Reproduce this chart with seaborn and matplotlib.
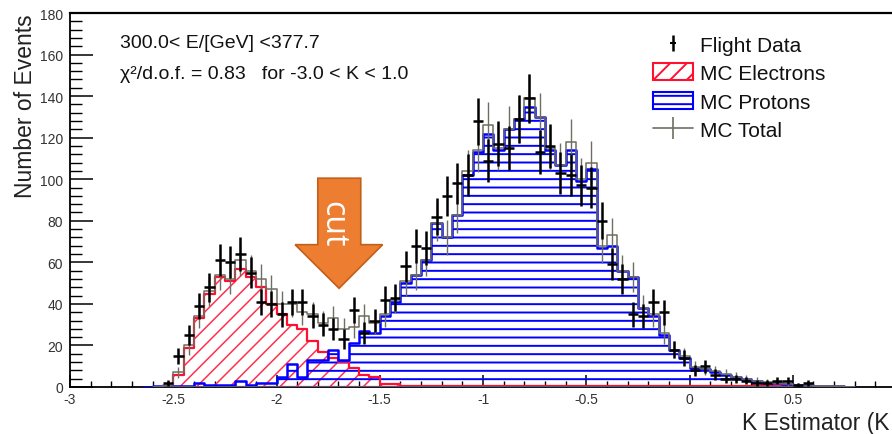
import numpy as np
import pandas as pd
import matplotlib
matplotlib.use("Agg")
import matplotlib.pyplot as plt
import seaborn as sns
from matplotlib.patches import Patch, Polygon
from matplotlib.lines import Line2D
from matplotlib.ticker import MultipleLocator, FuncFormatter

# ---- binning of the K estimator: 80 bins of width 0.05 on [-3, 1] ----
k_edges = np.linspace(-3.0, 1.0, 81)
k_centers = 0.5 * (k_edges[:-1] + k_edges[1:])

# ---- counts per bin ----
flight_data = [
    0, 0, 0, 0, 0, 0, 0, 0, 0, 2,
    15, 25, 39, 48, 61, 60, 64, 55, 41, 40,
    35, 41, 41, 34, 30, 28, 23, 37, 26, 32,
    42, 43, 58, 68, 67, 82, 92, 98, 102, 128,
    109, 117, 115, 129, 139, 113, 116, 103, 102, 97,
    96, 80, 59, 52, 35, 34, 41, 36, 18, 14,
    8, 10, 6, 4, 4, 3, 2, 2, 3, 3,
    1, 2, 0, 0, 0, 0, 0, 0, 0, 0,
]

mc_electrons = [
    0, 0, 0, 0, 0, 0, 0, 0, 0, 0,
    6, 19, 33, 45, 53, 51, 57, 53, 48, 40,
    35, 30, 28, 22, 17, 14, 12, 9, 6, 5,
    1.5, 1.5, 0.6, 0.6, 0.5, 0.5, 0.5, 0.5, 0.5, 0.5,
    0.4, 0.4, 0.4, 0.4, 0.4, 0.4, 0.4, 0.4, 0.4, 0.4,
    0.4, 0.4, 0.4, 0.4, 0.4, 0.4, 0.4, 0.4, 0.4, 0.4,
    0.4, 0.4, 0.4, 0.4, 0.4, 0.4, 0.4, 0.4, 0.4, 0.4,
    0, 0, 0, 0, 0, 0, 0, 0, 0, 0,
]

mc_protons = [
    0, 0, 0, 0, 0, 0, 0, 0, 0.3, 0.3,
    0.3, 0.3, 2, 1, 1, 1, 3, 1, 2, 2,
    5, 11, 5, 13, 13, 18, 13, 21, 27, 26,
    34, 41, 50, 54, 61, 79, 72, 83, 102, 113,
    122, 114, 124, 129, 135, 130, 114, 107, 114, 99,
    105, 67, 68, 56, 53, 38, 34, 25, 18, 14,
    9, 8.5, 7, 6, 5, 4, 3, 2, 2, 1.5,
    1, 0.8, 0.5, 0.4, 0.3, 0, 0, 0, 0, 0,
]

mc_total = [
    0, 0, 0, 0, 0, 0, 0, 0, 0, 1,
    7, 20, 34, 46, 54, 52, 61, 56, 52, 47,
    40, 40, 36, 35, 31, 33, 28, 29, 34, 31,
    35, 42, 51, 54, 61, 79, 72, 83, 104, 114,
    126, 115, 124, 129, 139, 130, 115, 107, 118, 100,
    108, 68, 73, 56, 53, 38, 35, 26, 18, 15,
    9.5, 8.7, 7.5, 6.3, 5, 4, 3, 2.2, 2, 1.5,
    1, 0.8, 0.5, 0.4, 0.3, 0, 0, 0, 0, 0,
]

x_ticks = [-3, -2.5, -2, -1.5, -1, -0.5, 0, 0.5]
legend_labels = ["Flight Data", "MC Electrons", "MC Protons", "MC Total"]
energy_text = "300.0< E/[GeV] <377.7"
fit_text = "\u03c7\u00b2/d.o.f. = 0.83   for -3.0 < K < 1.0"
x_title = "K Estimator (K"
y_title = "Number of Events"

RED = "#ff1030"
BLUE = "#0000ff"
GRAY = "#6e6e62"

sns.set_theme(style="ticks")
plt.rcParams.update({
    "font.family": ["Liberation Sans", "DejaVu Sans"],
    "axes.unicode_minus": False,
    "axes.linewidth": 1.3,
    "axes.edgecolor": "black",
    "hatch.linewidth": 1.4,
    "figure.facecolor": "white",
    "axes.facecolor": "white",
})

W, H = 892, 435
fig = plt.figure(figsize=(W / 100, H / 100), dpi=100)
ax = fig.add_axes([70 / W, 47 / H, 826 / W, 374 / H])


def span(values):
    """Slice of bins covering the non-empty range, padded by one empty bin."""
    v = np.asarray(values, dtype=float)
    nz = np.nonzero(v)[0]
    lo = max(nz[0] - 1, 0)
    hi = min(nz[-1] + 2, len(v))
    return lo, hi


def hatched_hist(values, color, hatch, hatch_lw):
    lo, hi = span(values)
    v = np.asarray(values, dtype=float)[lo:hi]
    art = ax.stairs(v, k_edges[lo:hi + 1], fill=True, facecolor="none",
                    edgecolor=color, hatch=hatch, linewidth=0, zorder=1)
    if hasattr(art, "set_hatch_linewidth"):
        art.set_hatch_linewidth(hatch_lw)
    return art


def outline_hist(values, color, lw, z):
    lo, hi = span(values)
    frame = pd.DataFrame({"k": k_centers[lo:hi],
                          "n": np.asarray(values, dtype=float)[lo:hi]})
    sns.histplot(data=frame, x="k", weights="n", bins=list(k_edges[lo:hi + 1]),
                 element="step", fill=False, color=color, linewidth=lw,
                 ax=ax, zorder=z)
    # close the outline along the baseline
    ax.plot([k_edges[lo], k_edges[hi]], [0, 0], color=color, lw=lw, zorder=z,
            solid_capstyle="butt")


# electrons: red diagonal hatch, protons: blue horizontal hatch
hatched_hist(mc_electrons, "#ff3050", "//", 1.1)
hatched_hist(mc_protons, BLUE, "--", 1.4)
outline_hist(mc_electrons, RED, 1.6, 2)
outline_hist(mc_protons, BLUE, 1.8, 3)

# MC total: grey step with statistical error bars
outline_hist(mc_total, GRAY, 1.1, 4)
tot = np.asarray(mc_total, dtype=float)
mt = tot >= 1
ax.errorbar(k_centers[mt], tot[mt], yerr=np.sqrt(tot[mt]), fmt="none",
            ecolor=GRAY, elinewidth=1.0, capsize=0, zorder=4)

# flight data with Poisson errors and bin-width horizontal bars
dat = np.asarray(flight_data, dtype=float)
md = dat > 0
ax.errorbar(k_centers[md], dat[md], yerr=np.sqrt(dat[md]), xerr=0.025,
            fmt="none", ecolor="black", elinewidth=1.8, capsize=0, zorder=5)

# axes, ticks and labels
ax.set_xlim(-3, 1)
ax.set_ylim(0, 180)
ax.set_xticks(x_ticks)
ax.xaxis.set_minor_locator(MultipleLocator(0.1))
ax.yaxis.set_major_locator(MultipleLocator(20))
ax.yaxis.set_minor_locator(MultipleLocator(4))
fmt = FuncFormatter(lambda v, p: f"{v:g}")
ax.xaxis.set_major_formatter(fmt)
ax.yaxis.set_major_formatter(fmt)
ax.tick_params(axis="both", which="both", direction="in", colors="black",
               labelcolor="#333333", top=False, right=False)
ax.tick_params(axis="x", which="major", length=8.5, width=1.1, pad=3.5, labelsize=10)
ax.tick_params(axis="x", which="minor", length=4.5, width=1.0)
ax.tick_params(axis="y", which="major", length=16.5, width=1.1, pad=5, labelsize=10)
ax.tick_params(axis="y", which="minor", length=8.5, width=1.0)
for sp in ax.spines.values():
    sp.set_visible(True)
    sp.set_zorder(0.5)
ax.spines["top"].set_linewidth(1.6)

ax.set_ylabel(y_title, loc="top", fontsize=16.5, labelpad=2, color="#222222")
ax.set_xlabel(x_title, fontsize=16.5, color="#222222", ha="right")
ax.xaxis.set_label_coords(0.9927, -0.063)

# run information
ax.text(-2.758, 166, energy_text, fontsize=14, va="center", ha="left", color="#111111")
ax.text(-2.758, 150.8, fit_text, fontsize=14, va="center", ha="left", color="#111111")

# legend
h_data = (Line2D([], [], ls="none", marker="|", ms=11, mew=1.8, color="black"),
          Line2D([], [], ls="none", marker="_", ms=4, mew=1.5, color="black"))
h_el = Patch(facecolor="none", edgecolor=RED, hatch="//", lw=1.5)
h_pr = Patch(facecolor="none", edgecolor=BLUE, hatch="--", lw=1.5)
h_tot = Line2D([], [], color=GRAY, lw=1.2, marker="|", ms=16, mew=1.2)
leg = ax.legend([h_data, h_el, h_pr, h_tot], legend_labels, loc="upper left",
                bbox_to_anchor=(0.706, 0.941), frameon=False, fontsize=15,
                borderpad=0, borderaxespad=0, handlelength=1.92,
                handleheight=0.87, handletextpad=0.34, labelspacing=0.42)
for t in leg.get_texts():
    t.set_color("#111111")

# cut marker: block arrow pointing down onto the valley between the peaks
arrow_xy = [(-1.800, 100.5), (-1.592, 100.5), (-1.592, 68.5), (-1.486, 68.5),
            (-1.697, 47.5), (-1.910, 68.5), (-1.800, 68.5)]
ax.add_patch(Polygon(arrow_xy, closed=True, facecolor="#ed7d31",
                     edgecolor="#c0601a", lw=1.2, zorder=6))
ax.text(-1.73, 79, "cut", rotation=-90, fontsize=23, family="Open Sans",
        color="white", ha="center", va="center", zorder=7)

fig.savefig("out.png", dpi=100)
